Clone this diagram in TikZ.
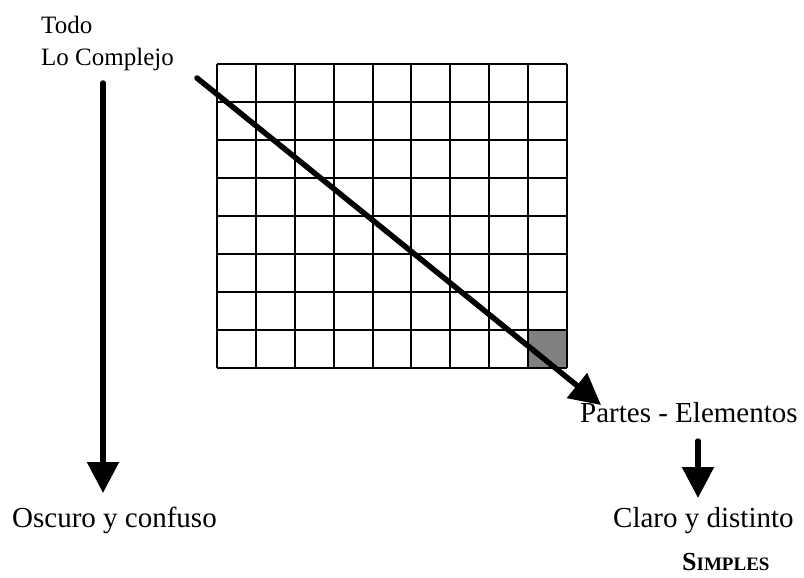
\documentclass[tikz,border=0pt]{standalone}
\usepackage{fontspec}
\setmainfont{Liberation Serif}
\usepackage{xcolor}
\usetikzlibrary{arrows.meta,positioning,calc}
\definecolor{celdaGris}{HTML}{808080}

\begin{document}
\begin{tikzpicture}[x=1pt,y=-1pt]
    \tikzset{
      rejilla/.style={draw=black, line width=2pt},
      flecha/.style={line width=5.5pt, line cap=round, -{Triangle[length=31pt,width=31pt]}},
      txtgrande/.style={font=\fontsize{29}{34}\selectfont, anchor=base west, inner sep=0pt},
      txtchico/.style={font=\fontsize{25}{30}\selectfont, anchor=base west, inner sep=0pt}
    }
    \useasboundingbox (0,0) rectangle (804,578);

    % Labels
    \node[txtchico] (todo) at (41,34) {Todo};
    \node[txtchico] (complejo) at (41,66) {Lo Complejo};
    \node[txtgrande] (partes) at (580,422) {Partes - Elementos};
    \node[txtgrande] (oscuro) at (12,527) {Oscuro y confuso};
    \node[txtgrande] (claro) at (613,527) {Claro y distinto};
    \node[anchor=base west, inner sep=0pt, font=\bfseries] (simples) at (682,570)
      {{\fontsize{26}{30}\selectfont S}{\fontsize{19}{22}\selectfont IMPLES}};

    % Table: 9 x 8 cells, last one grey
    \fill[celdaGris] (528.1,330) rectangle (567,368);
    \foreach \i in {0,...,9} {
      \draw[rejilla] ({217+\i*38.89},64) -- ({217+\i*38.89},368);
    }
    \foreach \j in {0,...,8} {
      \draw[rejilla] (217,{64+\j*38}) -- (567,{64+\j*38});
    }

    % Arrows
    \coordinate (izqIni) at (103,83);
    \coordinate (izqFin) at (103,493);
    \coordinate (diagIni) at (197,78);
    \coordinate (diagFin) at (601,405);
    \coordinate (derIni) at (698,441);
    \coordinate (derFin) at (698,498);
    \draw[flecha] (izqIni) -- (izqFin);
    \draw[flecha] (diagIni) -- (diagFin);
    \draw[flecha] (derIni) -- (derFin);
  \end{tikzpicture}
\end{document}
